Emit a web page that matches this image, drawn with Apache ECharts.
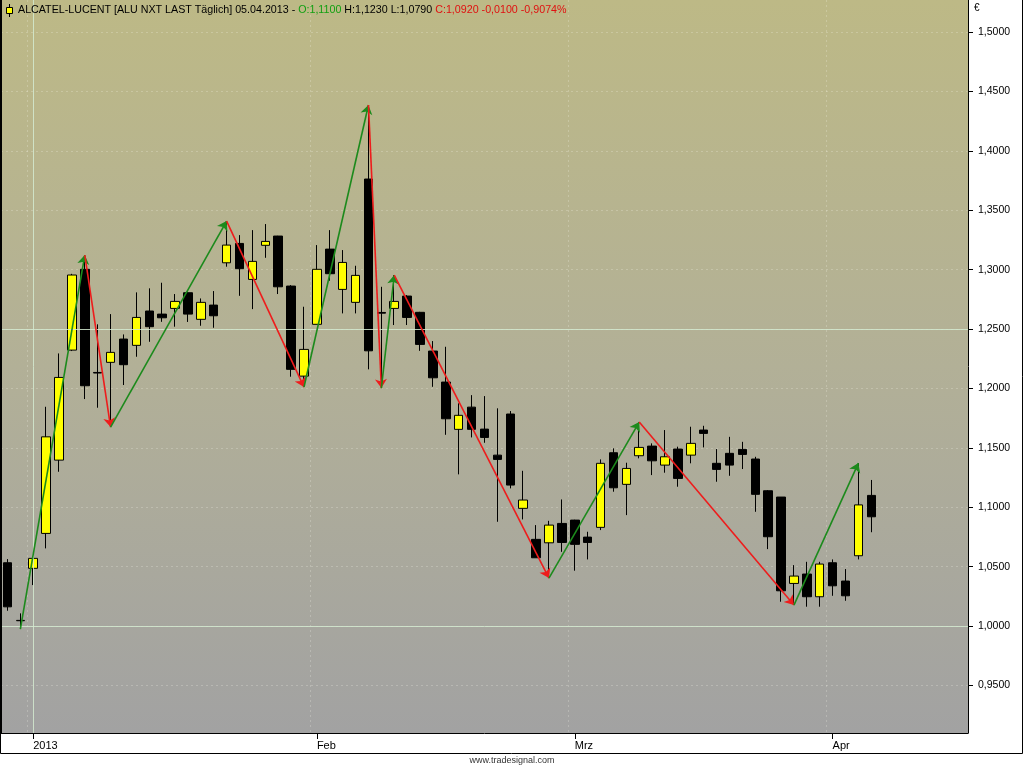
<!DOCTYPE html>
<html>
<head>
<meta charset="utf-8">
<title>ALCATEL-LUCENT</title>
<script src="https://cdn.jsdelivr.net/npm/echarts@6/dist/echarts.min.js"></script>
<style>
html, body { margin: 0; padding: 0; background: #fff; }
#chart { width: 1024px; height: 768px; }
</style>
</head>
<body>
<div id="chart"></div>
<script>
// trading days (Euronext Paris)
var dates = [
  '2012-12-28','2012-12-31',
  '2013-01-02','2013-01-03','2013-01-04',
  '2013-01-07','2013-01-08','2013-01-09','2013-01-10','2013-01-11',
  '2013-01-14','2013-01-15','2013-01-16','2013-01-17','2013-01-18',
  '2013-01-21','2013-01-22','2013-01-23','2013-01-24','2013-01-25',
  '2013-01-28','2013-01-29','2013-01-30','2013-01-31',
  '2013-02-01',
  '2013-02-04','2013-02-05','2013-02-06','2013-02-07','2013-02-08',
  '2013-02-11','2013-02-12','2013-02-13','2013-02-14','2013-02-15',
  '2013-02-18','2013-02-19','2013-02-20','2013-02-21','2013-02-22',
  '2013-02-25','2013-02-26','2013-02-27','2013-02-28',
  '2013-03-01',
  '2013-03-04','2013-03-05','2013-03-06','2013-03-07','2013-03-08',
  '2013-03-11','2013-03-12','2013-03-13','2013-03-14','2013-03-15',
  '2013-03-18','2013-03-19','2013-03-20','2013-03-21','2013-03-22',
  '2013-03-25','2013-03-26','2013-03-27','2013-03-28',
  '2013-04-02','2013-04-03','2013-04-04','2013-04-05'
];
// empty slots to the right of the last bar
var padSlots = ['p1','p2','p3','p4','p5','p6','p7'];

var opens = [
  1.0533, 1.0045,
  1.0486, 1.0780, 1.1397, 1.2323, 1.3003, 1.2135, 1.2220, 1.2416,
  1.2363, 1.2652, 1.2626, 1.2674, 1.2806, 1.2582, 1.2702, 1.3058,
  1.3221, 1.2918, 1.3205, 1.3283, 1.2862, 1.2104,
  1.2540, 1.3173, 1.2834, 1.2725, 1.3763, 1.2640, 1.2674, 1.2778,
  1.2641, 1.2315, 1.2054, 1.1656, 1.1843, 1.1658, 1.1439, 1.1785,
  1.0991, 1.0730, 1.0701, 1.0864,
  1.0892, 1.0749, 1.0831, 1.1459, 1.1193, 1.1434, 1.1515, 1.1355,
  1.1490, 1.1439, 1.1650, 1.1370, 1.1454, 1.1487, 1.1406, 1.1139,
  1.1086, 1.0359, 1.0438, 1.0247,
  1.0533, 1.0379, 1.0592, 1.1100
];
var closes = [
  1.0162, 1.0048,
  1.0570, 1.1593, 1.2093, 1.2955, 1.2023, 1.2130, 1.2304, 1.2200,
  1.2598, 1.2520, 1.2595, 1.2733, 1.2626, 1.2725, 1.2612, 1.3207,
  1.3008, 1.3070, 1.3238, 1.2856, 1.2161, 1.2329,
  1.3003, 1.2966, 1.3061, 1.2952, 1.2317, 1.2634, 1.2733, 1.2598,
  1.2371, 1.2090, 1.1745, 1.1774, 1.1656, 1.1588, 1.1403, 1.1187,
  1.1061, 1.0575, 1.0850, 1.0704,
  1.0688, 1.0704, 1.1370, 1.1164, 1.1327, 1.1504, 1.1391, 1.1425,
  1.1243, 1.1538, 1.1622, 1.1319, 1.1355, 1.1445, 1.1109, 1.0752,
  1.0297, 1.0421, 1.0247, 1.0522,
  1.0339, 1.0255, 1.1020, 1.0920
];
var lows = [
  1.0129, 0.9975,
  1.0345, 1.0654, 1.1299, 1.2315, 1.1911, 1.1838, 1.1675, 1.2029,
  1.2267, 1.2393, 1.2561, 1.2520, 1.2560, 1.2528, 1.2511, 1.3025,
  1.2780, 1.2668, 1.3100, 1.2795, 1.2099, 1.2012,
  1.2540, 1.2907, 1.2632, 1.2632, 1.2161, 1.2003, 1.2534, 1.2534,
  1.2317, 1.2014, 1.1610, 1.1277, 1.1588, 1.1543, 1.0878, 1.1159,
  1.0898, 1.0575, 1.0404, 1.0625,
  1.0466, 1.0561, 1.0808, 1.1131, 1.0934, 1.1412, 1.1271, 1.1291,
  1.1173, 1.1370, 1.1504, 1.1215, 1.1265, 1.1322, 1.0962, 1.0648,
  1.0205, 1.0177, 1.0163, 1.0163,
  1.0255, 1.0213, 1.0561, 1.0790
];
var highs = [
  1.0564, 1.0107,
  1.0584, 1.1846, 1.2295, 1.2965, 1.3123, 1.2540, 1.2626, 1.2455,
  1.2809, 1.2843, 1.2890, 1.2795, 1.2815, 1.2758, 1.2820, 1.3409,
  1.3291, 1.3333, 1.3384, 1.3285, 1.2870, 1.2688,
  1.3207, 1.3333, 1.3165, 1.3033, 1.4386, 1.2856, 1.2955, 1.2786,
  1.2645, 1.2399, 1.2351, 1.1875, 1.1944, 1.1936, 1.1833, 1.1810,
  1.1307, 1.0850, 1.0886, 1.1066,
  1.0895, 1.0794, 1.1403, 1.1496, 1.1375, 1.1717, 1.1538, 1.1650,
  1.1510, 1.1678, 1.1686, 1.1490, 1.1593, 1.1551, 1.1425, 1.1145,
  1.1086, 1.0513, 1.0541, 1.0541,
  1.0561, 1.0480, 1.1372, 1.1230
];

// zigzag pivots
var pivotDates = ['2012-12-31','2013-01-08','2013-01-10','2013-01-23','2013-01-31','2013-02-07',
                  '2013-02-08','2013-02-11','2013-02-27','2013-03-08','2013-03-26','2013-04-04'];
var pivotValues = [0.9975, 1.3123, 1.1675, 1.3409, 1.2012, 1.4386,
                   1.2003, 1.2955, 1.0404, 1.1717, 1.0177, 1.1372];

// axis labels
var monthLabelDates = ['2013-01-02','2013-02-01','2013-03-01','2013-04-02'];
var monthLabels = ['2013','Feb','Mrz','Apr'];
var priceTicks = [0.95, 1.0, 1.05, 1.1, 1.15, 1.2, 1.25, 1.3, 1.35, 1.4, 1.45, 1.5];
var solidLevels = [1.0, 1.25];
var yearStartDate = '2013-01-02';

function fmt(v) { return v.toFixed(4).replace('.', ','); }

var candles = dates.map(function (d, i) {
  return [opens[i], closes[i], lows[i], highs[i]];
});

var zigzag = [];
for (var i = 1; i < pivotDates.length; i++) {
  var up = pivotValues[i] > pivotValues[i - 1];
  zigzag.push({
    coords: [[dates.indexOf(pivotDates[i - 1]), pivotValues[i - 1]],
             [dates.indexOf(pivotDates[i]), pivotValues[i]]],
    lineStyle: { color: up ? '#1c8a1c' : '#ee1c1c' }
  });
}

var n = dates.length - 1;
var chg = closes[n] - closes[n - 1];
var pct = chg / closes[n - 1] * 100;
var header = '{k|ALCATEL-LUCENT [ALU NXT LAST Täglich] 05.04.2013 - }' +
  '{g|O:' + fmt(opens[n]) + '}' +
  '{k| H:' + fmt(highs[n]) + ' L:' + fmt(lows[n]) + ' }' +
  '{r|C:' + fmt(closes[n]) + ' ' + fmt(chg) + ' ' + fmt(pct) + '%}';

function isMonthStart(idx, val) { return monthLabelDates.indexOf(val) >= 0; }

var gridDash = { type: [2, 3], color: 'rgba(255,255,245,0.22)', width: 1 };

var chart = echarts.init(document.getElementById('chart'));
chart.setOption({
  animation: false,
  backgroundColor: '#ffffff',
  title: {
    left: 13, top: 3, padding: [2, 5],
    text: header,
    textStyle: {
      fontWeight: 'normal',
      rich: {
        k: { color: '#000', fontSize: 10.7, fontWeight: 'normal', fontFamily: 'Liberation Sans' },
        g: { color: '#12a012', fontSize: 10.7, fontWeight: 'normal', fontFamily: 'Liberation Sans' },
        r: { color: '#e01010', fontSize: 10.7, fontWeight: 'normal', fontFamily: 'Liberation Sans' }
      }
    }
  },
  grid: {
    left: 1, right: 56, top: 0, bottom: 35,
    show: true,
    borderWidth: 0,
    backgroundColor: new echarts.graphic.LinearGradient(0, 0, 0, 1, [
      { offset: 0, color: '#bdb986' },
      { offset: 0.5, color: '#b2b097' },
      { offset: 1, color: '#a2a2a2' }
    ])
  },
  xAxis: {
    type: 'category',
    data: dates.concat(padSlots),
    boundaryGap: true,
    axisLine: { show: true, lineStyle: { color: '#000', width: 1 } },
    axisTick: { show: true, alignWithLabel: true, interval: isMonthStart, length: 6, lineStyle: { color: '#000' } },
    axisLabel: {
      interval: isMonthStart,
      align: 'left',
      margin: 7,
      color: '#000',
      fontSize: 11,
      fontFamily: 'Liberation Sans',
      formatter: function (v) {
        var k = monthLabelDates.indexOf(v);
        return k >= 0 ? monthLabels[k] : '';
      }
    },
    splitLine: { show: true, interval: isMonthStart, lineStyle: gridDash }
  },
  yAxis: {
    type: 'value',
    position: 'right',
    min: 0.91,
    max: 1.527,
    axisLine: { show: true, lineStyle: { color: '#000', width: 1 } },
    axisTick: { show: true, length: 5, customValues: priceTicks, lineStyle: { color: '#000' } },
    axisLabel: {
      customValues: priceTicks,
      margin: 10,
      color: '#000',
      fontSize: 10.5,
      fontFamily: 'Liberation Sans',
      formatter: function (v) { return fmt(v); }
    },
    splitLine: { show: true, lineStyle: gridDash }
  },
  series: [
    {
      type: 'candlestick',
      data: candles,
      barWidth: 9,
      itemStyle: {
        color: '#ffff00',
        color0: '#000000',
        borderColor: '#000000',
        borderColor0: '#000000',
        borderWidth: 1
      },
      markLine: {
        silent: true,
        symbol: 'none',
        animation: false,
        label: { show: false },
        lineStyle: { type: 'solid', color: 'rgba(212,234,208,0.85)', width: 1 },
        data: solidLevels.map(function (v) { return { yAxis: v }; })
          .concat([{ xAxis: yearStartDate }])
      },
      z: 2
    },
    {
      type: 'lines',
      coordinateSystem: 'cartesian2d',
      symbol: ['none', 'arrow'],
      symbolSize: 9,
      lineStyle: { width: 1.6, opacity: 1 },
      data: zigzag,
      z: 5
    }
  ],
  graphic: [
    // frame round the chart
    { type: 'rect', silent: true, z: 100,
      shape: { x: 0.5, y: -2, width: 1022, height: 755.5 },
      style: { fill: 'none', stroke: '#000', lineWidth: 1 } },
    { type: 'line', silent: true, z: 100,
      shape: { x1: 1, y1: 0, x2: 1, y2: 733 },
      style: { stroke: '#000', lineWidth: 2 } },
    // legend glyph
    { type: 'line', silent: true, z: 100,
      shape: { x1: 9.5, y1: 4, x2: 9.5, y2: 17 },
      style: { stroke: '#000', lineWidth: 1 } },
    { type: 'rect', silent: true, z: 101,
      shape: { x: 6.5, y: 7.5, width: 6, height: 6 },
      style: { fill: '#ffff00', stroke: '#000', lineWidth: 1 } },
    { type: 'text', silent: true, z: 100, left: 974, top: 3,
      style: { text: '€', fill: '#000', fontSize: 10, fontFamily: 'Liberation Sans' } },
    { type: 'text', silent: true, z: 100, left: 'center', top: 756,
      style: { text: 'www.tradesignal.com', fill: '#333', fontSize: 9, fontFamily: 'Liberation Sans Narrow, Liberation Sans' } }
  ]
});
</script>
</body>
</html>
